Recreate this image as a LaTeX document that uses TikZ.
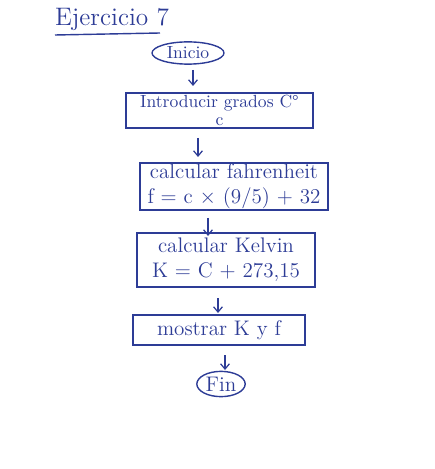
\documentclass[tikz,border=0pt]{standalone}
\usetikzlibrary{arrows.meta,shapes.geometric}
\definecolor{ink}{RGB}{45,60,150}
\begin{document}
\begin{tikzpicture}[x=0.02cm,y=-0.02cm,
  every node/.style={text=ink,font=\large},
  procbox/.style={draw=ink,line width=0.8pt,rectangle,inner sep=0pt,align=center},
  term/.style={draw=ink,line width=0.8pt,ellipse,inner sep=1pt},
  flow/.style={draw=ink,line width=0.7pt,-{Straight Barb[length=3pt,width=5pt]}}]
\useasboundingbox (0,0) rectangle (434,469);
\node (title) at (112,19) {\Large Ejercicio 7};
\draw[ink,line width=0.8pt] (55,35) -- (160,33);
\node[term,minimum width=1.44cm,minimum height=0.36cm,font=\normalsize] (ini) at (188,53) {Inicio};
\node[procbox,minimum width=3.74cm,minimum height=0.70cm,font=\normalsize] (b1) at (219.5,110.5)
  {Introducir grados C\textdegree\\[-2pt] c};
\node[procbox,minimum width=3.76cm,minimum height=0.94cm] (b2) at (234,186.5)
  {calcular fahrenheit\\ f = c $\times$ (9/5) + 32};
\node[procbox,minimum width=3.56cm,minimum height=1.08cm] (b3) at (226,260)
  {calcular Kelvin\\ K = C + 273,15};
\node[procbox,minimum width=3.44cm,minimum height=0.60cm] (b4) at (219,330)
  {mostrar K y f};
\node[term,minimum width=0.94cm,minimum height=0.48cm] (fin) at (221,384) {Fin};
\coordinate (a1s) at (193,70); \coordinate (a1e) at (193,86);
\coordinate (a2s) at (198,138); \coordinate (a2e) at (198,157);
\coordinate (a3s) at (208,218); \coordinate (a3e) at (208,236);
\coordinate (a4s) at (218,298); \coordinate (a4e) at (218,313);
\coordinate (a5s) at (225,355); \coordinate (a5e) at (225,370);
\draw[flow] (a1s) -- (a1e);
\draw[flow] (a2s) -- (a2e);
\draw[flow] (a3s) -- (a3e);
\draw[flow] (a4s) -- (a4e);
\draw[flow] (a5s) -- (a5e);
\end{tikzpicture}
\end{document}
